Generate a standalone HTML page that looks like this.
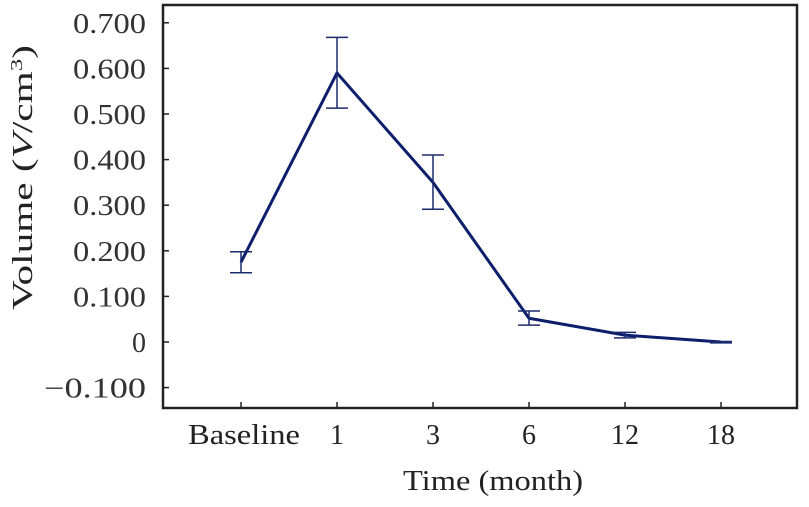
<!DOCTYPE html>
<html><head><meta charset="utf-8"><style>
body{margin:0;background:#fff;}
svg{display:block;font-family:"Liberation Serif",serif;}
</style></head><body>
<svg id="c" width="809" height="507">
<rect x="163" y="5" width="634" height="403" fill="none" stroke="#222" stroke-width="2.5"/>
<text x="403" y="490" font-size="28" textLength="180" lengthAdjust="spacingAndGlyphs" fill="#222">Time (month)</text>
<text transform="translate(32,310) rotate(-90)" font-size="28" textLength="265" lengthAdjust="spacingAndGlyphs" fill="#222">Volume (<tspan font-style="italic">V</tspan>/cm<tspan dy="-10" font-size="17">3</tspan><tspan dy="10">)</tspan></text>
<g id="g"></g>
</svg>
<script>
const categories=["Baseline","1","3","6","12","18"];
const values=[0.175,0.590,0.350,0.052,0.015,0.000];
const errLow=[0.152,0.513,0.291,0.037,0.009,-0.002];
const errHigh=[0.198,0.668,0.410,0.068,0.021,0.001];
const yTicks=[0.7,0.6,0.5,0.4,0.3,0.2,0.1,0,-0.1];
const yLabels=["0.700","0.600","0.500","0.400","0.300","0.200","0.100","0","\u22120.100"];
const NS="http://www.w3.org/2000/svg";
const g=document.getElementById('g');
function y(v){return 342-v*456;}
function x(i){return 241+i*96;}
function mk(t,a){const e=document.createElementNS(NS,t);for(const k in a)e.setAttribute(k,a[k]);g.appendChild(e);return e;}
yTicks.forEach((v,i)=>{
 const t=mk('line',{x1:163,x2:169,y1:y(v),y2:y(v),stroke:'#222','stroke-width':1.5});
 
 
 const lbl=yLabels[i];
 const a={x:146,y:y(v)+10,'font-size':28,'text-anchor':'end',fill:'#333'};
 if(lbl.length>1){a.textLength=lbl.length>5?102:73;a.lengthAdjust='spacingAndGlyphs';}
 const l=mk('text',a);
 l.textContent=lbl;
 
 
});
categories.forEach((c,i)=>{
 const t=mk('line',{x1:x(i),x2:x(i),y1:402,y2:408,stroke:'#222','stroke-width':1.5});
 
 
 const a={x:i==0?244:x(i),y:444,'font-size':28,'text-anchor':'middle',fill:'#222'};
 if(i==0){a.textLength=112;a.lengthAdjust='spacingAndGlyphs';}
 const l=mk('text',a);
 l.textContent=c;
 
 
});
const p=mk('polyline',{points:values.map((v,i)=>x(i)+','+y(v)).join(' '),fill:'none',stroke:'#0d1f6b','stroke-width':3,'stroke-linejoin':'round'});


values.forEach((v,i)=>{
 const e=mk('path',{d:`M${x(i)},${y(errLow[i])}V${y(errHigh[i])}M${x(i)-11},${y(errLow[i])}H${x(i)+11}M${x(i)-11},${y(errHigh[i])}H${x(i)+11}`,stroke:'#1a2a6e','stroke-width':1.5,fill:'none'});
 
 
});
</script>
</body></html>
